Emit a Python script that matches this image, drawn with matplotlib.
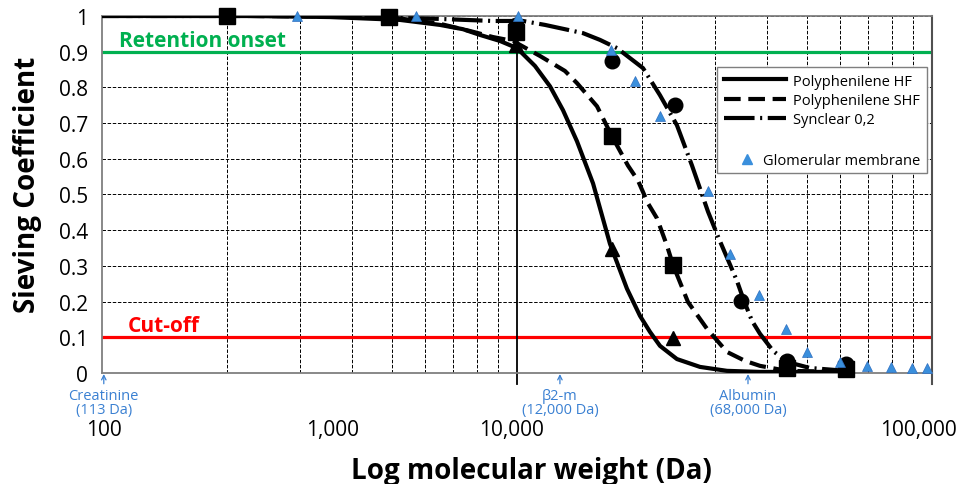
import matplotlib
matplotlib.use('Agg')
import matplotlib.pyplot as plt
from matplotlib.lines import Line2D
from matplotlib.ticker import LogLocator, NullFormatter, FuncFormatter

plt.rcParams['font.family'] = ['Open Sans', 'DejaVu Sans']
plt.rcParams['lines.scale_dashes'] = False

# fitted curves (molecular weight in Da, sieving coefficient)
hf_mw = [1000, 2270, 3540, 5220, 6520, 7410, 8140, 9100, 10000, 11050, 12010, 12910, 13950,
         15250, 16750, 18410, 19790, 20920, 22110, 24290, 27610, 32060, 38500, 62060]
hf_sc = [1.0, 1.0, 0.997, 0.989, 0.975, 0.963, 0.947, 0.930, 0.910, 0.860, 0.803, 0.736, 0.649,
         0.531, 0.362, 0.236, 0.160, 0.115, 0.076, 0.039, 0.017, 0.006, 0.003, 0.003]

shf_mw = [1000, 2270, 4920, 6520, 7700, 8750, 9780, 11360, 13050, 13950, 15590, 16940, 18510,
          19570, 20690, 21750, 22980, 23760, 25820, 28690, 32060, 35430, 38500, 44730, 62060]
shf_sc = [1.0, 1.0, 0.997, 0.978, 0.958, 0.941, 0.930, 0.888, 0.846, 0.812, 0.747, 0.663, 0.581,
          0.539, 0.475, 0.433, 0.357, 0.303, 0.199, 0.124, 0.059, 0.034, 0.020, 0.006, 0.003]

syn_mw = [1000, 3000, 6420, 8750, 10340, 11680, 14420, 15850, 17420, 20120, 22110, 24290, 26410,
          28860, 30510, 33890, 35240, 36840, 38500, 41400, 44730, 50820, 62060]
syn_sc = [1.0, 1.0, 0.992, 0.986, 0.986, 0.975, 0.952, 0.933, 0.910, 0.854, 0.778, 0.694, 0.581,
          0.452, 0.382, 0.258, 0.202, 0.146, 0.110, 0.062, 0.031, 0.014, 0.006]

# measured points
sq_mw = [2000, 4920, 9950, 16940, 23760, 44730, 62060]
sq_sc = [1.0, 0.997, 0.955, 0.663, 0.303, 0.015, 0.010]
ci_mw = [9950, 16940, 24030, 34660, 44730, 62060]
ci_sc = [0.975, 0.873, 0.750, 0.202, 0.034, 0.025]
tr_mw = [9950, 16940, 23760]
tr_sc = [0.918, 0.348, 0.098]

glom_mw = [2950, 5710, 10050, 16850, 19250, 22110, 28860, 32620, 38290, 44480, 49970, 60020,
           69700, 79660, 89500, 97280]
glom_sc = [1.0, 1.0, 1.0, 0.905, 0.817, 0.720, 0.510, 0.334, 0.219, 0.124, 0.059, 0.031,
           0.020, 0.017, 0.014, 0.014]

xtick_pos = [1010, 3600, 9720, 93000]
xtick_labels = ['100', '1,000', '10,000', '100,000']

markers_names = ['Creatinine\n(113 Da)', 'β2-m\n(12,000 Da)', 'Albumin\n(68,000 Da)']
markers_pos = [1010, 12690, 36030]

blue = '#3a80d2'
grey = '#7f7f7f'

fig = plt.figure(figsize=(9.6, 4.85), dpi=100)
fig.subplots_adjust(left=0.10625, right=0.9708, top=0.965, bottom=0.2289)
ax = fig.add_subplot(111)

ax.set_xscale('log')
ax.set_xlim(1000, 100000)
ax.set_ylim(0, 1)

# reference lines
ax.axhline(0.9, color='#00b050', lw=2.3, zorder=1.8)
ax.axhline(0.1, color='#ff0000', lw=2.3, zorder=1.8)
ax.text(1750, 0.916, 'Retention onset', color='#00b050', fontsize=15, fontweight='bold',
        ha='center', va='baseline')
ax.text(1406, 0.118, 'Cut-off', color='#ff0000', fontsize=15, fontweight='bold',
        ha='center', va='baseline')

ax.axvline(10000, ymin=-0.03, ymax=1, color='black', lw=1.3, clip_on=False, zorder=2)

lw = 3.0
ax.plot(hf_mw, hf_sc, color='black', lw=lw, solid_joinstyle='round', zorder=3)
ax.plot(shf_mw, shf_sc, color='black', lw=lw, dashes=(12, 5.5), zorder=3)
ax.plot(syn_mw, syn_sc, color='black', lw=lw, dashes=(22, 4, 1.5, 4), zorder=3)

ax.plot(sq_mw, sq_sc, 's', color='black', ms=11.5, zorder=4, clip_on=False)
ax.plot(ci_mw, ci_sc, 'o', color='black', ms=10.5, zorder=4, clip_on=False)
ax.plot(tr_mw, tr_sc, '^', color='black', ms=10, zorder=4, clip_on=False)
ax.plot(glom_mw, glom_sc, '^', color='#3a8fdc', ms=7, mec='#2f6fc0', mew=0.5,
        zorder=5, clip_on=False)

# molecule annotations under the axis
for name, pos in zip(markers_names, markers_pos):
    ax.annotate(name, xy=(pos, -0.003), xycoords=('data', 'axes fraction'),
                xytext=(0, -10), textcoords='offset points', ha='center', va='top',
                fontsize=10.5, color=blue, linespacing=0.9,
                arrowprops=dict(arrowstyle='->', color=blue, lw=0.9, shrinkA=1, shrinkB=0,
                                mutation_scale=8))

# axes styling
ax.set_xticks(xtick_pos, xtick_labels)
ax.xaxis.set_minor_locator(LogLocator(base=10, subs=range(2, 10)))
ax.xaxis.set_minor_formatter(NullFormatter())
ax.tick_params(axis='x', which='both', length=0, pad=33, labelsize=15)
ax.set_yticks([i / 10 for i in range(11)])
ax.yaxis.set_major_formatter(FuncFormatter(lambda v, p: '%g' % round(v, 1)))
ax.tick_params(axis='y', length=0, pad=10, labelsize=15)

ax.grid(False)
ax.xaxis.grid(True, which='minor', color='black', lw=0.7, linestyle=(0, (2.5, 1.2)))
ax.yaxis.grid(True, which='major', color='black', lw=0.7, linestyle=(0, (2.5, 1.2)))
ax.set_axisbelow(True)

for side in ['left', 'bottom', 'top']:
    ax.spines[side].set_color(grey)
    ax.spines[side].set_linewidth(1.3)
ax.spines['right'].set_color('#505050')
ax.spines['right'].set_linewidth(1.5)
ax.axvline(100000, ymin=-0.03, ymax=0, color='#505050', lw=1.5, clip_on=False)

ax.set_ylabel('Sieving Coefficient', fontsize=20, fontweight='bold')
ax.yaxis.set_label_coords(-0.072, 0.529)
ax.set_xlabel('Log molecular weight (Da)', fontsize=20, fontweight='bold')
ax.xaxis.set_label_coords(0.518, -0.232)

# legend
handles = [Line2D([], [], color='black', lw=lw),
           Line2D([], [], color='black', lw=lw, dashes=(12, 5.5)),
           Line2D([], [], color='black', lw=lw, dashes=(22, 4, 1.5, 4)),
           Line2D([], [], color='none'),
           Line2D([], [], color='none')]
labels = ['Polyphenilene HF', 'Polyphenilene SHF', 'Synclear 0,2', '', '']
leg1 = ax.legend(handles, labels, loc='upper left', bbox_to_anchor=(0.741, 0.560, 0.253, 0.297),
                 mode='expand', fontsize=10.5, handlelength=4.3, handletextpad=0.45,
                 labelspacing=0.3, borderpad=0.45, borderaxespad=0, fancybox=False,
                 edgecolor=grey, framealpha=1)
leg1.get_frame().set_linewidth(1.0)
leg1.set_zorder(6)
ax.add_artist(leg1)
leg2 = ax.legend([Line2D([], [], ls='none', marker='^', color='#3a8fdc', ms=7)],
                 ['Glomerular membrane'], loc='center left', bbox_to_anchor=(0.768, 0.594),
                 fontsize=10.5, handlelength=1.0, handletextpad=0.6, borderpad=0,
                 borderaxespad=0, frameon=False)
leg2.set_zorder(7)

fig.savefig('out.png', dpi=100)
